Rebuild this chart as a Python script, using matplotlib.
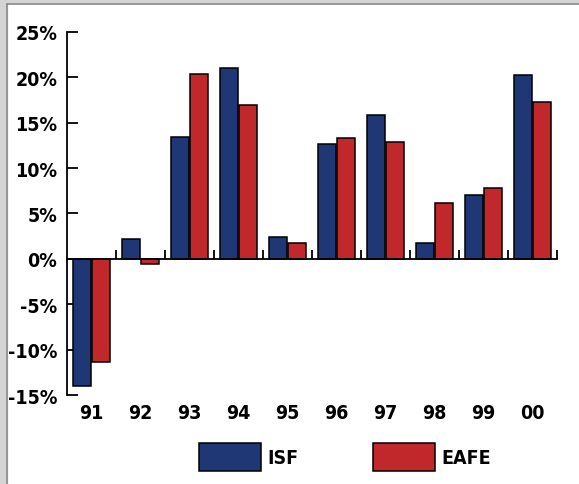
import matplotlib.pyplot as plt
from matplotlib.patches import Rectangle
from matplotlib.lines import Line2D

years = ["91", "92", "93", "94", "95", "96", "97", "98", "99", "00"]
isf = [-14.0, 2.2, 13.4, 21.0, 2.4, 12.7, 15.8, 1.7, 7.0, 20.3]
eafe = [-11.4, -0.6, 20.4, 17.0, 1.8, 13.3, 12.9, 6.2, 7.8, 17.3]
yticks = [-15, -10, -5, 0, 5, 10, 15, 20, 25]

blue = "#1f3774"
red = "#c0282c"

plt.rcParams['font.family'] = ['DejaVu Sans']
plt.rcParams['font.weight'] = 'bold'
plt.rcParams['font.stretch'] = 'condensed'

fig = plt.figure(figsize=(5.79, 4.85), dpi=100, facecolor="white")

# grey frame on top and left like the screenshot
fig.add_artist(Rectangle((0, 0.992), 1, 0.008, transform=fig.transFigure, color="#d4d4d4", zorder=0))
fig.add_artist(Rectangle((0, 0), 0.012, 1, transform=fig.transFigure, color="#d4d4d4", zorder=0))
fig.add_artist(Line2D([0.012, 1], [0.99, 0.99], transform=fig.transFigure, color="#8a8a8a", lw=1.2))
fig.add_artist(Line2D([0.0125, 0.0125], [0, 0.99], transform=fig.transFigure, color="#8a8a8a", lw=1.2))

ax = fig.add_axes([0.1157, 0.1835, 0.8463, 0.7485])

x = list(range(len(years)))
w = 0.37
b1 = ax.bar([i - 0.2 for i in x], isf, w, color=blue, edgecolor="black", linewidth=1.1, label="ISF", zorder=2)
b2 = ax.bar([i + 0.2 for i in x], eafe, w, color=red, edgecolor="black", linewidth=1.1, label="EAFE", zorder=2)

ax.set_xlim(-0.5, 9.5)
ax.set_ylim(-15, 25)
ax.spines['top'].set_visible(False)
ax.spines['right'].set_visible(False)
ax.spines['bottom'].set_position(('data', 0))
ax.spines['left'].set_linewidth(1.3)
ax.spines['bottom'].set_linewidth(1.3)

ax.set_yticks(yticks)
ax.set_yticklabels([f"{t}%" for t in yticks])
ax.tick_params(axis='y', direction='in', length=8, width=1.3, pad=7, labelsize=14)

ax.set_xticks([i + 0.5 for i in x])
ax.set_xticklabels([])
ax.tick_params(axis='x', direction='in', length=6.5, width=1.3)

for i, lab in enumerate(years):
    ax.annotate(lab, (i, -15), xytext=(0, -6), textcoords='offset points',
                ha='center', va='top', fontsize=14, fontweight='bold')

fig.legend(handles=[b1, b2], loc='center', bbox_to_anchor=(0.596, 0.0557), ncol=2,
           frameon=False, fontsize=14, handlelength=3.2, handleheight=1.85,
           handletextpad=0.35, columnspacing=3.8)

fig.savefig("out.png", dpi=100)
